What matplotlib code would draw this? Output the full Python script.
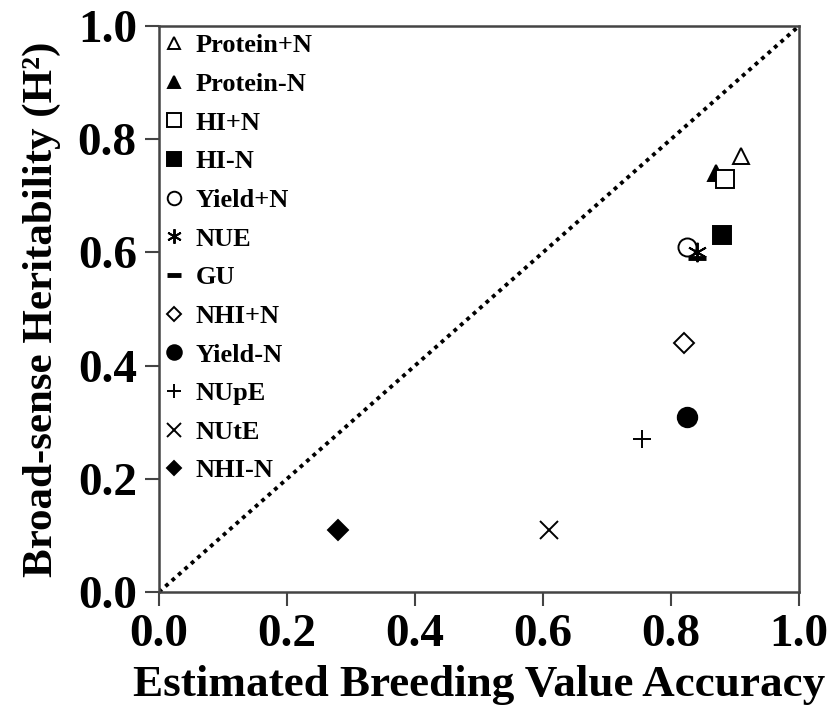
import numpy as np
import matplotlib.pyplot as plt

# values
labels = ['Protein+N', 'Protein-N', 'HI+N', 'HI-N', 'Yield+N', 'NUE', 'GU',
          'NHI+N', 'Yield-N', 'NUpE', 'NUtE', 'NHI-N']
accuracy = [0.91, 0.87, 0.885, 0.88, 0.825, 0.84, 0.84, 0.82, 0.825, 0.755, 0.61, 0.28]
heritability = [0.77, 0.74, 0.73, 0.63, 0.61, 0.60, 0.59, 0.44, 0.31, 0.27, 0.11, 0.11]

markers = ['^', '^', 's', 's', 'o', (6, 2, 0), '_', 'D', 'o', '+', 'x', 'D']
filled = [False, True, False, True, False, True, True, False, True, True, True, True]
sizes = [12, 12, 13, 13, 13, 14, 13, 10, 14, 13, 13, 10]

ticks = [0.0, 0.2, 0.4, 0.6, 0.8, 1.0]

plt.rcParams['font.family'] = ['Liberation Serif', 'DejaVu Serif']
plt.rcParams['font.weight'] = 'bold'

fig = plt.figure(figsize=(8.29, 7.08), dpi=100)
ax = fig.add_axes([0.1918, 0.1638, 0.772, 0.7995])

ax.plot([0, 1], [0, 1], color='black', linestyle=(0, (1, 1.2)), linewidth=2.8, zorder=1)

for i in range(len(labels)):
    fc = 'black' if filled[i] else 'white'
    ax.plot(accuracy[i], heritability[i], linestyle='none', marker=markers[i],
            markersize=sizes[i], markerfacecolor=fc, markeredgecolor='black',
            markeredgewidth=1.4 if markers[i] not in ('_',) else 3.5,
            label=labels[i], zorder=3)

ax.set_xlim(0, 1)
ax.set_ylim(0, 1)
ax.set_xticks(ticks)
ax.set_yticks(ticks)
ax.set_xticklabels([f'{t:.1f}' for t in ticks])
ax.set_yticklabels([f'{t:.1f}' for t in ticks])
ax.tick_params(direction='out', length=10, width=1.5, color='#444444',
               labelsize=34, pad=6)
for s in ax.spines.values():
    s.set_color('#444444')
    s.set_linewidth(1.8)

ax.set_xlabel('Estimated Breeding Value Accuracy', fontsize=32.5, fontweight='bold', labelpad=6)
ax.set_ylabel('Broad-sense Heritability (H²)', fontsize=31, fontweight='bold', labelpad=12)

ax.legend(loc='upper left', frameon=False, fontsize=19, markerscale=0.75,
          handlelength=0.5, handletextpad=0.6, labelspacing=0.575,
          borderaxespad=0.0, borderpad=0.3, numpoints=1)

fig.savefig('out.png', dpi=100)
